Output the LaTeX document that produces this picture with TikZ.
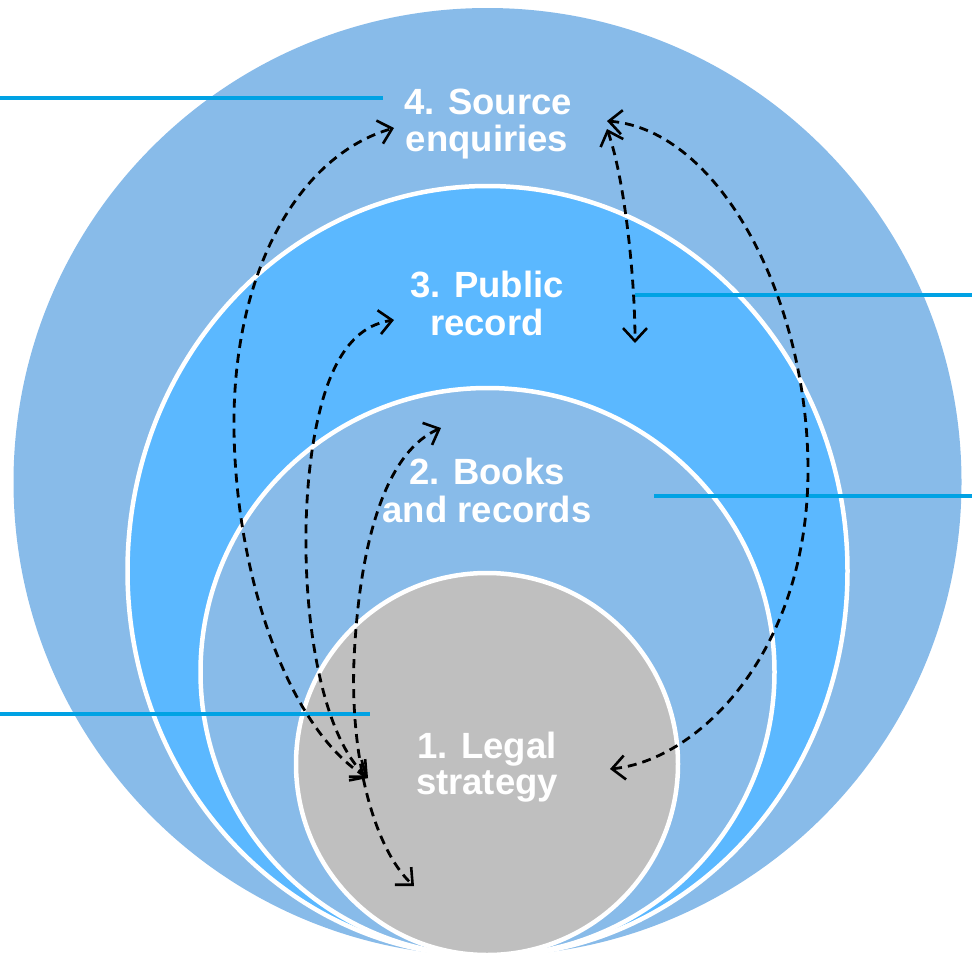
\documentclass[tikz,border=0pt]{standalone}
\usepackage{fontspec}
\setmainfont{Liberation Sans}
\usetikzlibrary{arrows.meta}
\definecolor{paleblue}{RGB}{136,187,233}
\definecolor{brightblue}{RGB}{91,184,255}
\definecolor{coregray}{RGB}{191,191,191}
\definecolor{leaderblue}{RGB}{0,162,228}
\tikzset{
  ring/.style={draw=white, line width=4.5pt},
  lbl/.style={text=white, font=\bfseries\fontsize{36.5}{37}\selectfont, anchor=base, inner sep=0pt},
  leader/.style={draw=leaderblue, line width=3.2pt},
  flow/.style={draw=black, line width=2.8pt, dash pattern=on 9pt off 6pt,
    {Straight Barb[length=13pt,width=24pt,line width=2.6pt]}-{Straight Barb[length=13pt,width=24pt,line width=2.6pt]}}
}
\begin{document}
\begin{tikzpicture}[x=1pt,y=-1pt]
\useasboundingbox (0,0) rectangle (972,959);
% circles
\fill[paleblue] (487.5,482) ellipse [x radius=474pt, y radius=474pt];
\filldraw[fill=brightblue, ring] (487.5,571) ellipse [x radius=360pt, y radius=385pt];
\filldraw[fill=paleblue, ring] (487.5,672) ellipse [x radius=287pt, y radius=284pt];
\filldraw[fill=coregray, ring] (487,764) ellipse [x radius=191pt, y radius=191pt];
% leader lines
\coordinate (la1) at (0,98);   \coordinate (la2) at (383,98);
\coordinate (lb1) at (635,295); \coordinate (lb2) at (972,295);
\coordinate (lc1) at (654,496); \coordinate (lc2) at (972,496);
\coordinate (ld1) at (0,714);  \coordinate (ld2) at (370,714);
\draw[leader] (la1) -- (la2);
\draw[leader] (lb1) -- (lb2);
\draw[leader] (lc1) -- (lc2);
\draw[leader] (ld1) -- (ld2);
% labels
\node[lbl] (l4a) at (488,114) {4. Source};
\node[lbl] (l4b) at (487,151) {enquiries};
\node[lbl] (l3a) at (487,297) {3. Public};
\node[lbl] (l3b) at (487,335) {record};
\node[lbl] (l2a) at (487,484) {2. Books};
\node[lbl] (l2b) at (487,522) {and records};
\node[lbl] (l1a) at (487,758) {1. Legal};
\node[lbl] (l1b) at (487,794) {strategy};
% arrow end points
\coordinate (s4L) at (394,128);
\coordinate (s4R) at (607,121);
\coordinate (s4R2) at (607,129);
\coordinate (s3L) at (394,320);
\coordinate (s3in) at (635,343);
\coordinate (s2L) at (441,428);
\coordinate (s1L) at (368,778);
\coordinate (s1R) at (610,769);
\coordinate (s1B) at (414,886);
% dashed arrows
\draw[flow] (s1L) .. controls (290,730) and (236,580) .. (234,430)
                 .. controls (232,270) and (300,155) .. (s4L);
\draw[flow] (s1L) .. controls (305,720) and (292,520) .. (320,410)
                 .. controls (335,350) and (360,325) .. (s3L);
\draw[flow] (s2L) .. controls (390,450) and (360,530) .. (354,660)
                 .. controls (350,760) and (375,850) .. (s1B);
\draw[flow] (s4R2) .. controls (625,180) and (635,280) .. (s3in);
\draw[flow] (s4R) .. controls (720,130) and (808,300) .. (808,470)
                 .. controls (808,650) and (700,760) .. (s1R);
\end{tikzpicture}
\end{document}
